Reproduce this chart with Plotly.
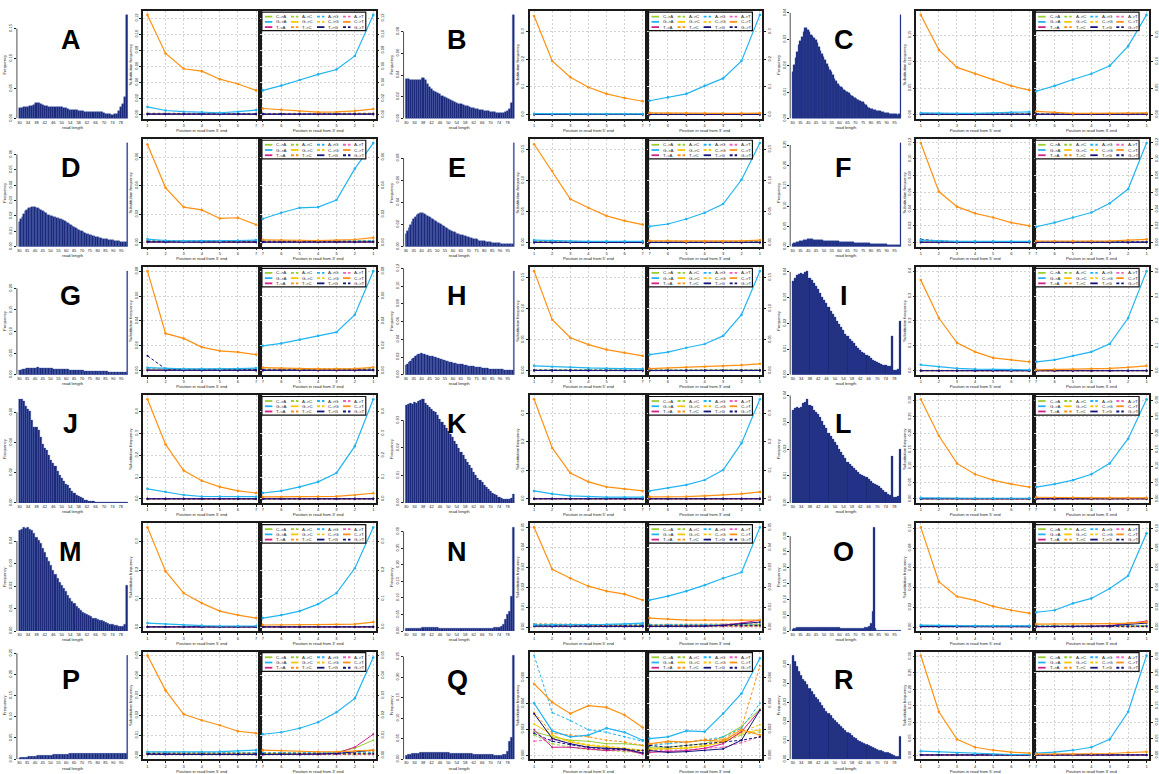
import math
import plotly.graph_objects as go

W, H = 1159, 774

# ---------------- read-length axes ----------------
LEN_SHORT = list(range(30, 82))      # 30..81
LEN_LONG = list(range(30, 100))      # 30..99
TICKS_SHORT = list(range(30, 79, 4))
TICKS_LONG = list(range(30, 96, 5))

# ---------------- read counts per length ----------------
hist_A = [110, 112, 114, 116, 120, 124, 130, 140, 160, 155,
          145, 135, 125, 123, 121, 120, 118, 118, 121, 120,
          119, 112, 105, 98, 92, 90, 87, 84, 80, 78,
          75, 72, 68, 67, 67, 66, 66, 64, 62, 63,
          55, 50, 45, 43, 40, 42, 48, 80, 120, 150,
          220, 1050]
hist_B = [390, 390, 388, 386, 385, 385, 383, 383, 400, 380,
          340, 310, 290, 275, 262, 250, 240, 228, 216, 205,
          195, 185, 176, 166, 158, 150, 142, 135, 128, 121,
          115, 109, 103, 98, 93, 89, 85, 80, 76, 72,
          68, 65, 62, 60, 58, 57, 58, 62, 75, 100,
          160, 1030]
hist_C = [430, 500, 560, 620, 680, 720, 760, 800, 840, 840,
          820, 800, 780, 770, 750, 730, 700, 660, 630, 600,
          570, 540, 510, 480, 450, 430, 400, 370, 350, 320,
          300, 290, 280, 270, 260, 250, 240, 220, 210, 200,
          190, 180, 170, 160, 155, 150, 140, 130, 110, 100,
          90, 90, 80, 80, 75, 70, 70, 65, 60, 55,
          50, 50, 45, 45, 40, 40, 40, 35, 40, 960]
hist_D = [240, 265, 290, 315, 340, 355, 370, 375, 380, 380,
          380, 375, 370, 360, 350, 340, 330, 320, 310, 305,
          300, 295, 290, 285, 280, 275, 270, 265, 260, 250,
          240, 230, 220, 210, 200, 190, 180, 170, 160, 155,
          150, 140, 130, 125, 120, 115, 110, 105, 100, 95,
          90, 85, 80, 78, 75, 72, 70, 68, 65, 62,
          60, 58, 55, 52, 50, 48, 45, 42, 40, 1000]
hist_E = [120, 150, 180, 210, 240, 270, 290, 310, 320, 330,
          330, 330, 320, 310, 300, 290, 280, 270, 260, 250,
          240, 230, 220, 210, 200, 190, 180, 170, 160, 150,
          145, 140, 130, 125, 120, 115, 110, 105, 100, 95,
          90, 85, 80, 75, 70, 70, 65, 60, 60, 55,
          55, 50, 50, 45, 45, 40, 40, 40, 35, 35,
          35, 30, 30, 30, 30, 25, 25, 25, 25, 1020]
hist_F = [30, 35, 40, 45, 50, 55, 60, 62, 65, 68,
          70, 71, 70, 70, 69, 68, 66, 65, 64, 62,
          60, 59, 58, 57, 56, 55, 54, 53, 52, 51,
          50, 49, 48, 47, 46, 45, 44, 43, 42, 41,
          40, 39, 38, 37, 36, 35, 34, 33, 32, 31,
          30, 29, 28, 27, 26, 25, 24, 23, 22, 21,
          21, 20, 20, 20, 20, 20, 20, 20, 20, 1020]
hist_G = [45, 50, 55, 58, 60, 62, 64, 66, 68, 70,
          70, 70, 71, 69, 68, 67, 66, 65, 64, 63,
          62, 61, 60, 59, 58, 57, 56, 55, 54, 53,
          52, 51, 50, 49, 48, 47, 46, 45, 44, 43,
          42, 41, 40, 39, 38, 37, 36, 35, 35, 34,
          34, 33, 33, 32, 32, 31, 31, 30, 30, 30,
          30, 29, 29, 29, 29, 28, 28, 28, 28, 1030]
hist_H = [90, 105, 120, 135, 150, 165, 180, 190, 200, 205,
          210, 205, 200, 195, 190, 188, 185, 180, 175, 170,
          165, 160, 155, 150, 145, 140, 135, 130, 125, 120,
          118, 115, 112, 108, 105, 102, 100, 97, 94, 91,
          88, 85, 82, 80, 78, 76, 74, 72, 70, 68,
          66, 64, 62, 60, 59, 58, 57, 56, 55, 54,
          53, 52, 51, 50, 50, 50, 50, 50, 50, 1020]
hist_I = [870, 900, 920, 930, 940, 930, 950, 960, 900, 880,
          850, 820, 790, 760, 720, 690, 660, 630, 590, 560,
          530, 500, 470, 440, 410, 380, 360, 330, 310, 290,
          270, 250, 230, 210, 200, 180, 170, 150, 140, 130,
          120, 110, 100, 90, 90, 80, 80, 360, 40, 40,
          50, 500]
hist_J = [1010, 1010, 990, 940, 910, 890, 810, 740, 740, 710,
          640, 570, 530, 510, 460, 420, 390, 360, 310, 270,
          240, 210, 180, 170, 140, 110, 90, 70, 60, 50,
          40, 30, 25, 20, 15, 12, 10, 8, 7, 6,
          5, 5, 4, 5, 4, 4, 5, 4, 4, 4,
          4, 5]
hist_K = [940, 950, 960, 950, 970, 960, 980, 990, 1000, 960,
          940, 920, 900, 890, 880, 850, 810, 780, 750, 720,
          690, 660, 630, 600, 570, 530, 490, 460, 420, 390,
          360, 330, 300, 270, 240, 220, 200, 170, 150, 130,
          110, 90, 80, 70, 50, 40, 35, 30, 30, 35,
          40, 80]
hist_L = [860, 880, 890, 880, 890, 920, 930, 960, 910, 900,
          860, 840, 820, 790, 760, 720, 690, 650, 620, 590,
          560, 530, 500, 470, 440, 410, 380, 360, 340, 320,
          300, 280, 270, 260, 250, 240, 220, 200, 180, 170,
          160, 150, 140, 120, 100, 80, 70, 430, 50, 50,
          60, 500]
hist_M = [920, 930, 950, 940, 950, 930, 920, 900, 860, 830,
          800, 760, 720, 680, 640, 600, 560, 520, 480, 450,
          420, 390, 360, 330, 300, 270, 250, 230, 210, 190,
          170, 160, 150, 140, 130, 120, 120, 110, 100, 100,
          90, 80, 70, 60, 60, 50, 50, 40, 40, 40,
          60, 420]
hist_N = [25, 27, 28, 29, 30, 30, 31, 31, 32, 32,
          32, 32, 32, 32, 32, 32, 31, 31, 31, 31,
          30, 30, 30, 30, 30, 30, 29, 29, 29, 29,
          29, 29, 28, 28, 28, 28, 28, 28, 28, 29,
          30, 30, 32, 35, 40, 50, 70, 120, 170, 200,
          350, 1050]
hist_O = [20, 24, 28, 32, 35, 38, 40, 40, 41, 40,
          40, 40, 39, 39, 38, 38, 37, 37, 36, 36,
          35, 35, 34, 34, 34, 33, 33, 33, 32, 32,
          32, 31, 31, 31, 30, 30, 30, 30, 30, 30,
          30, 30, 30, 30, 30, 31, 32, 34, 38, 45,
          80, 200, 1050, 30, 10, 10, 10, 10, 10, 10,
          10, 10, 10, 10, 10, 10, 10, 10, 10, 10]
hist_P = [10, 12, 14, 16, 18, 20, 22, 24, 26, 28,
          30, 31, 32, 33, 34, 35, 36, 37, 38, 39,
          40, 41, 42, 43, 44, 45, 46, 47, 48, 49,
          50, 51, 52, 53, 54, 55, 55, 56, 56, 57,
          57, 58, 58, 59, 59, 60, 60, 60, 60, 60,
          60, 61, 60, 60, 61, 60, 60, 60, 59, 60,
          59, 59, 58, 58, 57, 56, 55, 54, 52, 1040]
hist_Q = [40, 45, 50, 55, 58, 60, 63, 65, 67, 68,
          70, 70, 70, 70, 70, 69, 68, 67, 66, 65,
          64, 63, 62, 61, 60, 59, 58, 57, 56, 55,
          54, 53, 52, 51, 50, 49, 48, 47, 46, 45,
          44, 43, 42, 41, 40, 40, 45, 50, 80, 180,
          220, 1070]
hist_R = [1060, 1000, 950, 900, 860, 820, 790, 760, 720, 690,
          660, 630, 610, 580, 550, 520, 490, 470, 450, 420,
          400, 370, 350, 330, 310, 290, 270, 260, 240, 220,
          210, 190, 180, 170, 160, 150, 140, 130, 120, 110,
          100, 90, 85, 80, 70, 65, 60, 50, 40, 30,
          30, 230]

# ---------------- substitution frequencies ----------------
# 5' lists: positions 1..7 ; 3' lists: positions 7..1
ct5_A = [0.124, 0.076, 0.057, 0.054, 0.044, 0.038, 0.030]
ga3_A = [0.030, 0.036, 0.043, 0.050, 0.056, 0.073, 0.124]
ga5_A = [0.0095, 0.0050, 0.0035, 0.0030, 0.0022, 0.0035, 0.0055]
ct3_A = [0.0075, 0.0060, 0.0040, 0.0030, 0.0032, 0.0045, 0.0068]

ct5_B = [0.357, 0.194, 0.135, 0.099, 0.075, 0.060, 0.048]
ga3_B = [0.050, 0.062, 0.075, 0.104, 0.131, 0.194, 0.361]
ga5_B = [0.003, 0.002, 0.002, 0.002, 0.002, 0.002, 0.002]
ct3_B = [0.006, 0.005, 0.005, 0.004, 0.004, 0.004, 0.005]

ct5_C = [0.188, 0.122, 0.089, 0.077, 0.066, 0.054, 0.046]
ga3_C = [0.044, 0.054, 0.066, 0.077, 0.092, 0.129, 0.188]
ga5_C = [0.003, 0.002, 0.002, 0.002, 0.003, 0.004, 0.005]
ct3_C = [0.006, 0.004, 0.002, 0.002, 0.002, 0.003, 0.003]

ct5_D = [0.069, 0.0385, 0.025, 0.023, 0.017, 0.0175, 0.0126]
ga3_D = [0.0168, 0.021, 0.0245, 0.025, 0.030, 0.052, 0.070]
ga5_D = [0.0025, 0.0015, 0.0012, 0.0012, 0.0012, 0.0015, 0.0018]
ct3_D = [0.0020, 0.0018, 0.0015, 0.0015, 0.0018, 0.0022, 0.0035]

ct5_E = [0.158, 0.115, 0.070, 0.056, 0.043, 0.035, 0.029]
ga3_E = [0.026, 0.030, 0.038, 0.048, 0.062, 0.101, 0.160]
ga5_E = [0.004, 0.003, 0.002, 0.002, 0.002, 0.002, 0.002]
ct3_E = [0.003, 0.003, 0.002, 0.002, 0.002, 0.003, 0.004]

ct5_F = [0.119, 0.061, 0.043, 0.035, 0.030, 0.024, 0.020]
ga3_F = [0.019, 0.024, 0.030, 0.036, 0.047, 0.064, 0.119]
ga5_F = [0.003, 0.002, 0.0015, 0.0015, 0.0015, 0.0015, 0.0015]
ct3_F = [0.002, 0.002, 0.002, 0.002, 0.002, 0.003, 0.004]
gt5_F = [0.004, 0.002, 0.001, 0.001, 0.001, 0.001, 0.001]

ct5_G = [0.080, 0.030, 0.026, 0.019, 0.016, 0.015, 0.013]
ga3_G = [0.020, 0.022, 0.025, 0.028, 0.031, 0.045, 0.080]
ga5_G = [0.0025, 0.0018, 0.0015, 0.0015, 0.0015, 0.0018, 0.0022]
ct3_G = [0.0025, 0.0020, 0.0015, 0.0015, 0.0015, 0.0018, 0.0028]
gt5_G = [0.012, 0.0015, 0.0008, 0.0008, 0.0008, 0.0008, 0.0008]

ct5_H = [0.160, 0.082, 0.053, 0.042, 0.034, 0.029, 0.024]
ga3_H = [0.026, 0.030, 0.037, 0.043, 0.056, 0.090, 0.160]
ga5_H = [0.008, 0.0065, 0.0055, 0.0045, 0.004, 0.0035, 0.003]
ct3_H = [0.0035, 0.0045, 0.0055, 0.0065, 0.0075, 0.009, 0.0112]

ct5_I = [0.364, 0.212, 0.112, 0.076, 0.052, 0.044, 0.036]
ga3_I = [0.036, 0.044, 0.060, 0.076, 0.108, 0.212, 0.400]
ga5_I = [0.024, 0.016, 0.010, 0.007, 0.005, 0.004, 0.004]
ct3_I = [0.004, 0.005, 0.006, 0.008, 0.010, 0.014, 0.020]

ct5_J = [0.457, 0.250, 0.130, 0.083, 0.055, 0.037, 0.027]
ga3_J = [0.027, 0.037, 0.055, 0.078, 0.119, 0.242, 0.457]
ga5_J = [0.046, 0.032, 0.018, 0.011, 0.011, 0.010, 0.010]
ct3_J = [0.009, 0.009, 0.009, 0.011, 0.012, 0.018, 0.026]

ct5_K = [0.350, 0.179, 0.091, 0.060, 0.042, 0.035, 0.028]
ga3_K = [0.028, 0.0385, 0.049, 0.0665, 0.1015, 0.196, 0.350]
ga5_K = [0.028, 0.0175, 0.0105, 0.007, 0.006, 0.006, 0.006]
ct3_K = [0.007, 0.007, 0.008, 0.0105, 0.014, 0.0175, 0.0245]

ct5_L = [0.303, 0.192, 0.108, 0.075, 0.057, 0.045, 0.036]
ga3_L = [0.036, 0.045, 0.057, 0.075, 0.108, 0.183, 0.303]
ga5_L = [0.003, 0.002, 0.002, 0.002, 0.002, 0.002, 0.002]
ct3_L = [0.005, 0.004, 0.004, 0.003, 0.003, 0.003, 0.003]

ct5_M = [0.350, 0.196, 0.119, 0.084, 0.056, 0.042, 0.0315]
ga3_M = [0.0315, 0.042, 0.056, 0.0805, 0.119, 0.2065, 0.350]
ga5_M = [0.014, 0.0105, 0.007, 0.005, 0.0035, 0.0035, 0.0035]
ct3_M = [0.007, 0.007, 0.007, 0.007, 0.009, 0.0105, 0.0175]

ct5_N = [0.050, 0.029, 0.0245, 0.0205, 0.018, 0.0165, 0.0135]
ga3_N = [0.0135, 0.0155, 0.018, 0.021, 0.0245, 0.0275, 0.050]
ga5_N = [0.0010, 0.0010, 0.0010, 0.0012, 0.0013, 0.0016, 0.0020]
ct3_N = [0.0045, 0.0040, 0.0035, 0.0035, 0.0035, 0.0035, 0.0035]
ta3_N = [0.0003, 0.0003, 0.0004, 0.0005, 0.0010, 0.0020, 0.0035]
tg3_N = [0.0003, 0.0003, 0.0003, 0.0004, 0.0008, 0.0015, 0.0025]

ct5_O = [0.101, 0.046, 0.031, 0.027, 0.021, 0.017, 0.014]
ga3_O = [0.015, 0.017, 0.024, 0.029, 0.039, 0.052, 0.095]
ga5_O = [0.002, 0.0015, 0.0012, 0.0012, 0.0012, 0.0012, 0.0012]
ct3_O = [0.003, 0.003, 0.003, 0.003, 0.0035, 0.004, 0.005]
ta3_O = [0.0004, 0.0004, 0.0005, 0.0008, 0.0015, 0.0035, 0.006]
tg3_O = [0.0004, 0.0004, 0.0005, 0.0007, 0.0012, 0.0025, 0.004]

ct5_P = [0.050, 0.0325, 0.0205, 0.0175, 0.015, 0.012, 0.011]
ga3_P = [0.0105, 0.0115, 0.0135, 0.0165, 0.0215, 0.0285, 0.049]
ga5_P = [0.0017, 0.0016, 0.0016, 0.0017, 0.0018, 0.0021, 0.0025]
ct3_P = [0.0025, 0.0022, 0.0017, 0.0017, 0.0017, 0.0020, 0.0025]
ta3_P = [0.0003, 0.0003, 0.0003, 0.0005, 0.0010, 0.0040, 0.0105]
ca3_P = [0.0008, 0.0008, 0.0008, 0.0010, 0.0015, 0.0035, 0.0075]
tg3_P = [0.0003, 0.0003, 0.0003, 0.0005, 0.0008, 0.0015, 0.0025]

ct5_R = [0.303, 0.132, 0.048, 0.024, 0.015, 0.009, 0.006]
ga3_R = [0.006, 0.009, 0.015, 0.024, 0.048, 0.132, 0.303]
ga5_R = [0.012, 0.010, 0.006, 0.004, 0.002, 0.002, 0.002]
ct3_R = [0.003, 0.003, 0.003, 0.004, 0.005, 0.008, 0.010]

# sample Q: every substitution type is resolved
Q5_CA = [0.00181, 0.00141, 0.00115, 0.00107, 0.00088, 0.00088, 0.00075]
Q5_AC = [0.00155, 0.00088, 0.00061, 0.00043, 0.00035, 0.00027, 0.00021]
Q5_AG = [0.00768, 0.00328, 0.00267, 0.00195, 0.00176, 0.00141, 0.00107]
Q5_AT = [0.00107, 0.00123, 0.00088, 0.00053, 0.00043, 0.00035, 0.00021]
Q5_GA = [0.00400, 0.00187, 0.00141, 0.00155, 0.00208, 0.00176, 0.00115]
Q5_GC = [0.00240, 0.00155, 0.00101, 0.00075, 0.00061, 0.00048, 0.00035]
Q5_CG = [0.00315, 0.00133, 0.00107, 0.00080, 0.00069, 0.00053, 0.00040]
Q5_CT = [0.00549, 0.00408, 0.00320, 0.00381, 0.00368, 0.00309, 0.00213]
Q5_TA = [0.00195, 0.00061, 0.00061, 0.00048, 0.00035, 0.00043, 0.00008]
Q5_TC = [0.00328, 0.00168, 0.00155, 0.00141, 0.00115, 0.00101, 0.00075]
Q5_TG = [0.00320, 0.00128, 0.00088, 0.00061, 0.00053, 0.00048, 0.00016]
Q5_GT = [0.00168, 0.00107, 0.00080, 0.00061, 0.00048, 0.00043, 0.00035]
Q3_CA = [0.00061, 0.00061, 0.00075, 0.00088, 0.00141, 0.00221, 0.00355]
Q3_AC = [0.00035, 0.00048, 0.00053, 0.00075, 0.00101, 0.00155, 0.00181]
Q3_AG = [0.00075, 0.00088, 0.00101, 0.00115, 0.00141, 0.00208, 0.00400]
Q3_AT = [0.00035, 0.00035, 0.00040, 0.00053, 0.00061, 0.00096, 0.00141]
Q3_GA = [0.00128, 0.00141, 0.00187, 0.00181, 0.00320, 0.00475, 0.00747]
Q3_GC = [0.00048, 0.00048, 0.00053, 0.00069, 0.00101, 0.00168, 0.00195]
Q3_CG = [0.00043, 0.00048, 0.00061, 0.00075, 0.00115, 0.00181, 0.00235]
Q3_CT = [0.00088, 0.00107, 0.00101, 0.00115, 0.00107, 0.00195, 0.00155]
Q3_TA = [0.00021, 0.00027, 0.00035, 0.00053, 0.00088, 0.00181, 0.00347]
Q3_TC = [0.00080, 0.00101, 0.00096, 0.00123, 0.00123, 0.00208, 0.00688]
Q3_TG = [0.00035, 0.00021, 0.00027, 0.00035, 0.00048, 0.00115, 0.00347]
Q3_GT = [0.00075, 0.00061, 0.00075, 0.00088, 0.00101, 0.00115, 0.00141]

# low background rates of the remaining substitution types
BG5_CA = [0.0011, 0.0010, 0.0010, 0.0009, 0.0009, 0.0009, 0.0009]
BG3_CA = [0.0009, 0.0009, 0.0009, 0.0009, 0.0010, 0.0010, 0.0012]
BG5_AC = [0.0005, 0.0004, 0.0004, 0.0004, 0.0004, 0.0004, 0.0004]
BG3_AC = [0.0004, 0.0004, 0.0004, 0.0004, 0.0004, 0.0004, 0.0005]
BG5_AG = [0.0014, 0.0013, 0.0013, 0.0012, 0.0012, 0.0012, 0.0012]
BG3_AG = [0.0012, 0.0012, 0.0012, 0.0012, 0.0012, 0.0013, 0.0014]
BG5_AT = [0.0004, 0.0003, 0.0003, 0.0003, 0.0003, 0.0003, 0.0003]
BG3_AT = [0.0003, 0.0003, 0.0003, 0.0003, 0.0003, 0.0003, 0.0004]
BG5_GC = [0.0006, 0.0005, 0.0005, 0.0005, 0.0005, 0.0005, 0.0005]
BG3_GC = [0.0005, 0.0005, 0.0005, 0.0005, 0.0005, 0.0005, 0.0006]
BG5_CG = [0.0006, 0.0005, 0.0005, 0.0005, 0.0005, 0.0005, 0.0005]
BG3_CG = [0.0005, 0.0005, 0.0005, 0.0005, 0.0005, 0.0005, 0.0006]
BG5_TA = [0.0005, 0.0004, 0.0004, 0.0004, 0.0004, 0.0004, 0.0004]
BG3_TA = [0.0004, 0.0004, 0.0004, 0.0004, 0.0004, 0.0004, 0.0005]
BG5_TC = [0.0016, 0.0014, 0.0014, 0.0013, 0.0013, 0.0013, 0.0013]
BG3_TC = [0.0013, 0.0013, 0.0013, 0.0013, 0.0013, 0.0014, 0.0016]
BG5_TG = [0.0004, 0.0003, 0.0003, 0.0003, 0.0003, 0.0003, 0.0003]
BG3_TG = [0.0003, 0.0003, 0.0003, 0.0003, 0.0003, 0.0003, 0.0004]
BG5_GT = [0.0008, 0.0006, 0.0006, 0.0006, 0.0006, 0.0006, 0.0006]
BG3_GT = [0.0006, 0.0006, 0.0006, 0.0006, 0.0006, 0.0006, 0.0007]

POS5 = [1, 2, 3, 4, 5, 6, 7]
POS3 = [-7, -6, -5, -4, -3, -2, -1]
POS3_TEXT = ["7", "6", "5", "4", "3", "2", "1"]

# ---------------- styles ----------------
YG, SKY, MAG, PINK, GOLD, ORANGE, NAVY = ("#9ACD32", "#22B4F0", "#D0208A", "#F062B8",
                                        "#F5C800", "#FF9012", "#14147C")
DASH = "3px,2px"
STYLE = {
    "C->A": (YG, "solid"), "A->C": (YG, DASH), "A->G": (SKY, DASH), "A->T": (PINK, DASH),
    "G->A": (SKY, "solid"), "G->C": (GOLD, "solid"), "C->G": (GOLD, DASH), "C->T": (ORANGE, "solid"),
    "T->A": (MAG, "solid"), "T->C": (ORANGE, DASH), "T->G": (NAVY, "solid"), "G->T": (NAVY, DASH),
}
LEGEND_ROWS = [["C->A", "A->C", "A->G", "A->T"],
               ["G->A", "G->C", "C->G", "C->T"],
               ["T->A", "T->C", "T->G", "G->T"]]
DRAW_ORDER = ["C->A", "A->C", "G->C", "C->G", "A->T", "T->C", "A->G",
              "T->A", "G->T", "T->G", "G->A", "C->T"]
BAR = "#1d2878"
BAR_EDGE = "#3550a8"
FONT = "Liberation Sans, Arial, sans-serif"

BG5 = {"C->A": BG5_CA, "A->C": BG5_AC, "A->G": BG5_AG, "A->T": BG5_AT, "G->C": BG5_GC,
       "C->G": BG5_CG, "T->A": BG5_TA, "T->C": BG5_TC, "T->G": BG5_TG, "G->T": BG5_GT}
BG3 = {"C->A": BG3_CA, "A->C": BG3_AC, "A->G": BG3_AG, "A->T": BG3_AT, "G->C": BG3_GC,
       "C->G": BG3_CG, "T->A": BG3_TA, "T->C": BG3_TC, "T->G": BG3_TG, "G->T": BG3_GT}
Q5 = {"C->A": Q5_CA, "A->C": Q5_AC, "A->G": Q5_AG, "A->T": Q5_AT, "G->A": Q5_GA, "G->C": Q5_GC,
      "C->G": Q5_CG, "C->T": Q5_CT, "T->A": Q5_TA, "T->C": Q5_TC, "T->G": Q5_TG, "G->T": Q5_GT}
Q3 = {"C->A": Q3_CA, "A->C": Q3_AC, "A->G": Q3_AG, "A->T": Q3_AT, "G->A": Q3_GA, "G->C": Q3_GC,
      "C->G": Q3_CG, "C->T": Q3_CT, "T->A": Q3_TA, "T->C": Q3_TC, "T->G": Q3_TG, "G->T": Q3_GT}


def panel(tag, row, col, counts, long_reads, ct5=None, ga3=None, ga5=None, ct3=None,
          extra5=None, extra3=None, full5=None, full3=None):
    if full5 is not None:
        s5, s3 = dict(full5), dict(full3)
    else:
        s5, s3 = dict(BG5), dict(BG3)
        s5.update({"C->T": ct5, "G->A": ga5})
        s3.update({"G->A": ga3, "C->T": ct3})
        s5.update(extra5 or {})
        s3.update(extra3 or {})
    return dict(tag=tag, row=row, col=col, counts=counts,
                lengths=LEN_LONG if long_reads else LEN_SHORT,
                ticks=TICKS_LONG if long_reads else TICKS_SHORT, s5=s5, s3=s3)


PANELS = [
    panel("A", 0, 0, hist_A, False, ct5_A, ga3_A, ga5_A, ct3_A),
    panel("B", 0, 1, hist_B, False, ct5_B, ga3_B, ga5_B, ct3_B),
    panel("C", 0, 2, hist_C, True, ct5_C, ga3_C, ga5_C, ct3_C),
    panel("D", 1, 0, hist_D, True, ct5_D, ga3_D, ga5_D, ct3_D),
    panel("E", 1, 1, hist_E, True, ct5_E, ga3_E, ga5_E, ct3_E),
    panel("F", 1, 2, hist_F, True, ct5_F, ga3_F, ga5_F, ct3_F, extra5={"G->T": gt5_F}),
    panel("G", 2, 0, hist_G, True, ct5_G, ga3_G, ga5_G, ct3_G, extra5={"G->T": gt5_G}),
    panel("H", 2, 1, hist_H, True, ct5_H, ga3_H, ga5_H, ct3_H),
    panel("I", 2, 2, hist_I, False, ct5_I, ga3_I, ga5_I, ct3_I),
    panel("J", 3, 0, hist_J, False, ct5_J, ga3_J, ga5_J, ct3_J),
    panel("K", 3, 1, hist_K, False, ct5_K, ga3_K, ga5_K, ct3_K),
    panel("L", 3, 2, hist_L, False, ct5_L, ga3_L, ga5_L, ct3_L),
    panel("M", 4, 0, hist_M, False, ct5_M, ga3_M, ga5_M, ct3_M),
    panel("N", 4, 1, hist_N, False, ct5_N, ga3_N, ga5_N, ct3_N,
          extra3={"T->A": ta3_N, "T->G": tg3_N}),
    panel("O", 4, 2, hist_O, True, ct5_O, ga3_O, ga5_O, ct3_O,
          extra3={"T->A": ta3_O, "T->G": tg3_O}),
    panel("P", 5, 0, hist_P, True, ct5_P, ga3_P, ga5_P, ct3_P,
          extra3={"T->A": ta3_P, "C->A": ca3_P, "T->G": tg3_P}),
    panel("Q", 5, 1, hist_Q, False, full5=Q5, full3=Q3),
    panel("R", 5, 2, hist_R, False, ct5_R, ga3_R, ga5_R, ct3_R),
]

# ---------------- page geometry (pixels) ----------------
COL_X = [0, 389, 778]
ROW_TOP0, ROW_STEP, FRAME_H = 6.0, 129.8, 109.0


def fx(px):
    return px / W


def fy(py):
    return 1 - py / H


def pretty_ticks(top):
    raw = top / 5.0
    k = math.floor(math.log10(raw))
    step = min((m * 10 ** k for m in (1, 2, 5, 10)), key=lambda s: abs(math.log(s / raw)))
    n = int(math.floor(top / step + 1e-9))
    vals = [i * step for i in range(n + 1)]
    dec = max(0, -int(math.floor(math.log10(step) + 1e-9)))
    return vals, [f"{v:.{dec}f}" for v in vals]


def axname(kind, i):
    return f"{kind}axis" if i == 1 else f"{kind}axis{i}"


def axref(kind, i):
    return kind if i == 1 else f"{kind}{i}"


TICKFONT = dict(family=FONT, size=4, color="#222")
TITLEFONT = dict(family=FONT, size=4.2, color="#222")

fig = go.Figure()
layout = dict(width=W, height=H, margin=dict(l=0, r=0, t=0, b=0),
              paper_bgcolor="white", plot_bgcolor="white", showlegend=False,
              bargap=0, hovermode=False, font=dict(family=FONT, size=4, color="#222"))
shapes, annotations = [], []

for p, pn in enumerate(PANELS):
    X = COL_X[pn["col"]]
    top = ROW_TOP0 + ROW_STEP * pn["row"]
    bot = top + FRAME_H
    ydom = [fy(bot), fy(top)]
    ih, i5, i3 = 3 * p + 1, 3 * p + 2, 3 * p + 3

    # ---- read length histogram ----
    total = float(sum(pn["counts"]))
    freq = [c / total for c in pn["counts"]]
    lens = pn["lengths"]
    fig.add_trace(go.Bar(x=lens, y=freq, width=1.0,
                         marker=dict(color=BAR, line=dict(color=BAR_EDGE, width=0.35)),
                         xaxis=axref("x", ih), yaxis=axref("y", ih)))
    htop = max(freq) * 1.04
    hv, ht = pretty_ticks(htop)
    pad = 0.014 * len(lens)
    layout[axname("x", ih)] = dict(
        domain=[fx(X + 17), fx(X + 129)], anchor=axref("y", ih),
        range=[lens[0] - 0.5 - pad, lens[-1] + 0.5], showgrid=False, zeroline=False,
        showline=False, ticks="", tickvals=pn["ticks"], ticktext=[str(t) for t in pn["ticks"]],
        tickfont=TICKFONT, title=dict(text="read length", font=TITLEFONT, standoff=2))
    layout[axname("y", ih)] = dict(
        domain=ydom, anchor=axref("x", ih), range=[0, htop], showgrid=False, zeroline=False,
        showline=False, ticks="outside", ticklen=2, tickwidth=0.6, tickcolor="#222",
        tickvals=hv, ticktext=ht, tickangle=-90, tickfont=TICKFONT,
        title=dict(text="Frequency", font=TITLEFONT, standoff=1))
    shapes.append(dict(type="line", xref=f"{axref('x', ih)} domain", yref=axref("y", ih),
                       x0=0, x1=0, y0=0, y1=hv[-1], line=dict(color="#222", width=0.8)))

    # ---- substitution panels ----
    allv = [v for d in (pn["s5"], pn["s3"]) for s in d.values() for v in s]
    m = max(allv)
    yr = [-0.04 * m, 1.04 * m]
    sv, st = pretty_ticks(yr[1])
    for s in DRAW_ORDER:
        color, dash = STYLE[s]
        main = s in ("C->T", "G->A")
        for xs, ys, ia in ((POS5, pn["s5"][s], i5), (POS3, pn["s3"][s], i3)):
            fig.add_trace(go.Scatter(
                x=xs, y=ys, mode="lines+markers",
                line=dict(color=color, width=1.2 if main else 1.0, dash=dash),
                marker=dict(size=2.6 if main else 2, color=color),
                xaxis=axref("x", ia), yaxis=axref("y", ia)))

    frame = dict(showline=True, mirror=True, linecolor="#1a1a1a", linewidth=1.5,
                 showgrid=True, gridcolor="#d4d4d4", griddash="2px,2px", gridwidth=0.7,
                 zeroline=False, ticks="outside", ticklen=2, tickwidth=0.6,
                 tickcolor="#222", tickfont=TICKFONT)
    layout[axname("x", i5)] = dict(
        frame, domain=[fx(X + 144), fx(X + 262)], anchor=axref("y", i5), range=[0.76, 7.24],
        tickvals=POS5, ticktext=[str(v) for v in POS5],
        title=dict(text="Position in read from 5' end", font=TITLEFONT, standoff=2))
    layout[axname("y", i5)] = dict(
        frame, domain=ydom, anchor=axref("x", i5), range=yr, tickvals=sv, ticktext=st,
        tickangle=-90, title=dict(text="Substitution frequency", font=TITLEFONT, standoff=1))
    layout[axname("x", i3)] = dict(
        frame, domain=[fx(X + 262), fx(X + 378)], anchor=axref("y", i3),
        range=[-7.135, -0.865], tickvals=POS3, ticktext=POS3_TEXT,
        title=dict(text="Position in read from 3' end", font=TITLEFONT, standoff=2))
    layout[axname("y", i3)] = dict(
        frame, domain=ydom, anchor=axref("x", i3), side="right", range=yr,
        tickvals=sv, ticktext=st, tickangle=-90)

    # ---- legend box inside the 3' panel ----
    bx0, bx1 = X + 263.5, X + 368
    by0, by1 = top + 1.2, top + 20
    shapes.append(dict(type="rect", xref="paper", yref="paper", x0=fx(bx0), x1=fx(bx1),
                       y0=fy(by1), y1=fy(by0), fillcolor="white",
                       line=dict(color="#111", width=1.2), layer="above"))
    for r, names in enumerate(LEGEND_ROWS):
        yy = by0 + 4.6 + 5.3 * r
        for c, s in enumerate(names):
            color, dash = STYLE[s]
            lx = bx0 + 3 + 26.2 * c
            shapes.append(dict(type="line", xref="paper", yref="paper",
                               x0=fx(lx), x1=fx(lx + 7.5), y0=fy(yy), y1=fy(yy),
                               line=dict(color=color, width=1.8, dash=dash), layer="above"))
            annotations.append(dict(x=fx(lx + 9.5), y=fy(yy), xref="paper", yref="paper",
                                    text=s, showarrow=False, xanchor="left", yanchor="middle",
                                    font=dict(family=FONT, size=4.4, color="#222")))

    # ---- panel letter ----
    annotations.append(dict(x=fx(X + 71), y=fy(top + 29), xref="paper", yref="paper",
                            text=f"<b>{pn['tag']}</b>", showarrow=False,
                            xanchor="center", yanchor="middle",
                            font=dict(family=FONT, size=27, color="#000")))

layout["shapes"] = shapes
layout["annotations"] = annotations
fig.update_layout(**layout)
fig.write_html("out.html")
